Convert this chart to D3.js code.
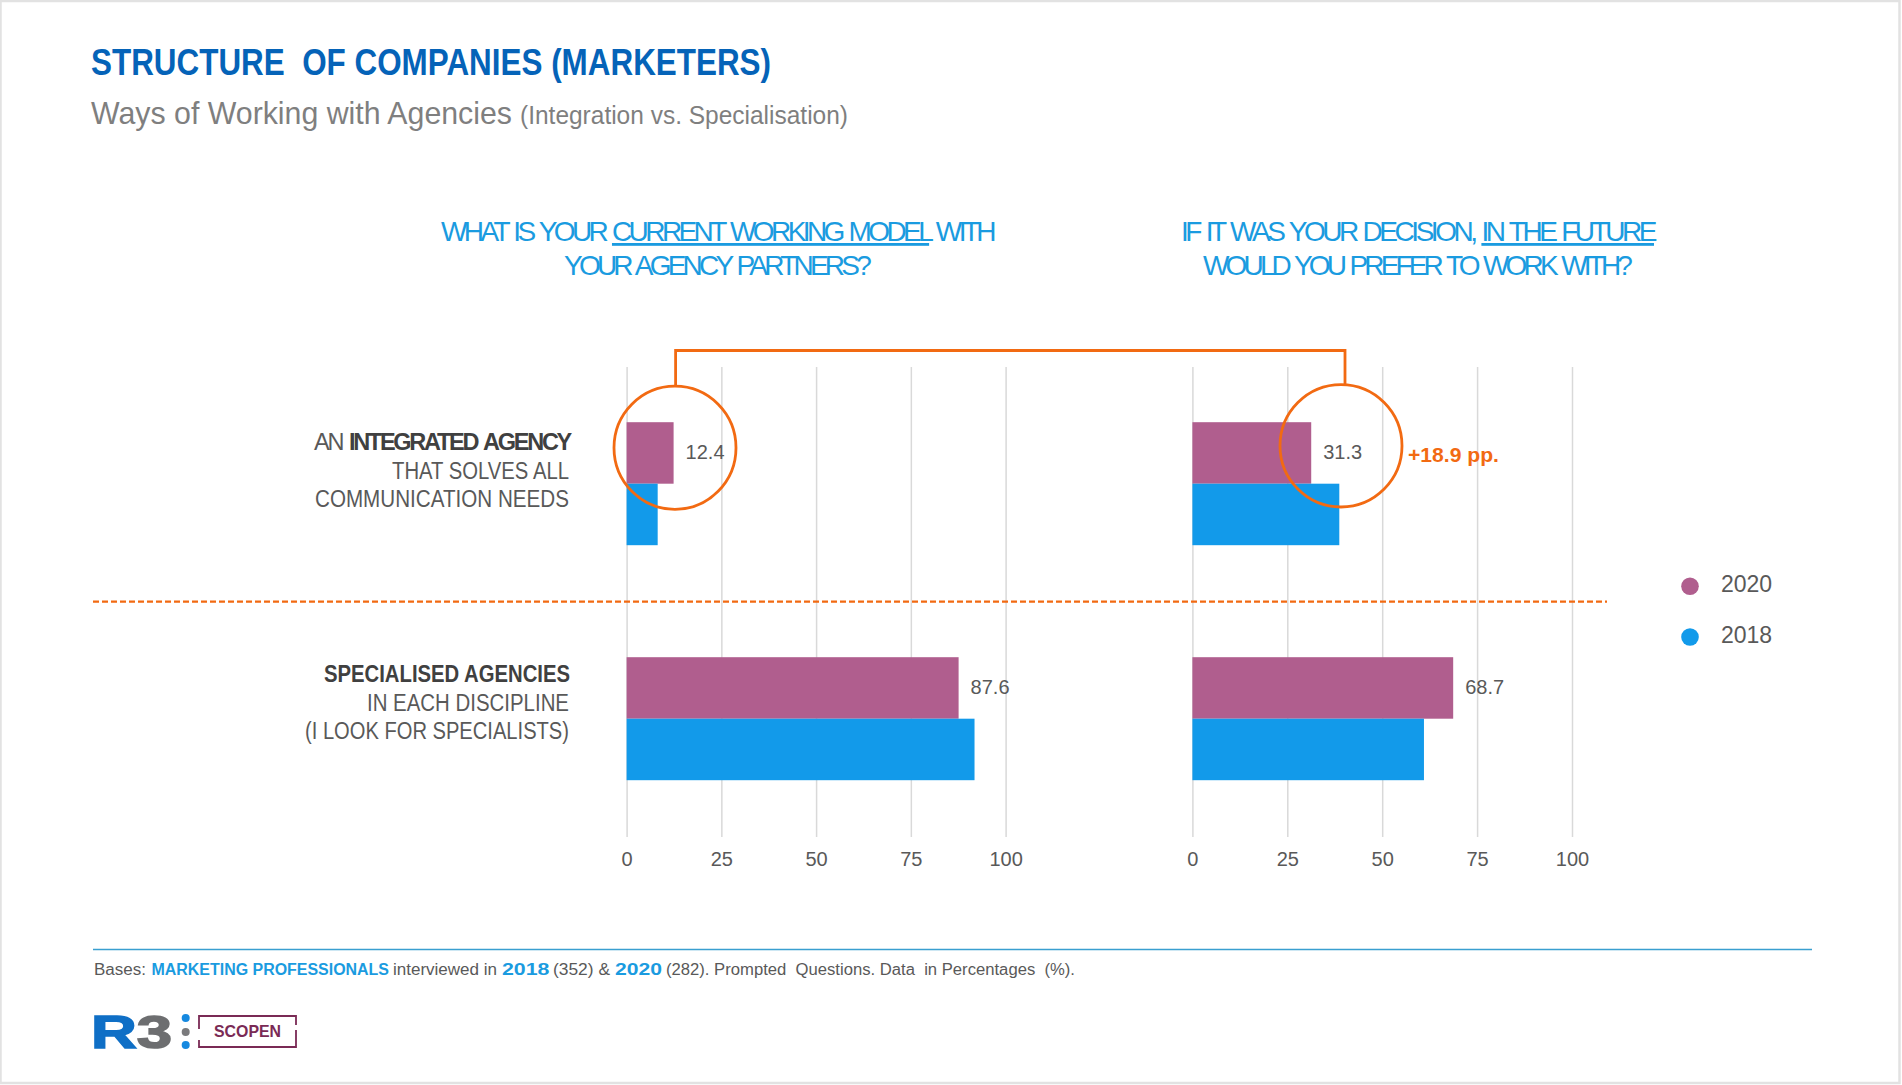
<!DOCTYPE html>
<html>
<head>
<meta charset="utf-8">
<script src="https://d3js.org/d3.v7.min.js"></script>
<style>
html, body { margin: 0; padding: 0; background: #fff; }
svg { display: block; }
text { font-family: "Liberation Sans Narrow", "Liberation Sans", sans-serif; white-space: pre; }
.tick text, .val, .legend { font-family: "Liberation Sans", sans-serif; }
</style>
</head>
<body>
<svg id="chart" width="1902" height="1085"></svg>
<script>
// data
var categories = ["integrated", "specialised"];
var years = ["2020", "2018"];
var currentModel2020 = [12.4, 87.6];
var currentModel2018 = [8.2, 91.8];
var futureModel2020 = [31.3, 68.7];
var futureModel2018 = [38.7, 61.0];
var tickValues = [0, 25, 50, 75, 100];

var PURPLE = "#b05e8e", BLUE = "#129aea", ORANGE = "#f26a12", GREY = "#595959";
var svg = d3.select("#chart");

// page frame
svg.append("rect").attr("x", 0.5).attr("y", 1).attr("width", 1899).attr("height", 1082)
	.attr("fill", "#fff").attr("stroke", "#e2e2e2").attr("stroke-width", 2.5);

// text fitted between two x positions
function fit(x0, x1, y, str, size, color, weight, font) {
	var t = svg.append("text").attr("x", x0).attr("y", y)
		.attr("textLength", x1 - x0).attr("lengthAdjust", "spacingAndGlyphs")
		.attr("font-size", size).attr("fill", color).text(str);
	if (weight) t.attr("font-weight", weight);
	if (font) t.style("font-family", font);
	return t;
}

// a line of several pieces, tightened with letter-spacing to fill x0..x1
// piece: [string, underlined, bold, colour]
function fitParts(x0, x1, y, parts, size, color) {
	var t = svg.append("text").attr("x", x0).attr("y", y)
		.attr("font-size", size).attr("fill", color).attr("word-spacing", 2.5);
	parts.forEach(function (p) {
		var s = t.append("tspan").text(p[0]);
		if (p[1]) s.style("text-decoration", "underline");
		if (p[2]) s.attr("font-weight", "bold");
		if (p[3]) s.attr("fill", p[3]);
	});
	var n = t.node();
	t.attr("letter-spacing", (x1 - x0 - n.getComputedTextLength()) / n.getNumberOfChars());
	return t;
}

fit(91, 771, 75, "STRUCTURE  OF COMPANIES (MARKETERS)", 36, "#0563b8", "bold");
fit(91, 512, 124, "Ways of Working with Agencies", 32, "#7f7f7f");
fit(520, 848, 124, "(Integration vs. Specialisation)", 26, "#7f7f7f");

// question headers
var HEAD = "#1a9be0";
fitParts(441, 993, 241, [["WHAT IS YOUR "], ["CURRENT WORKING MODEL", true], [" WITH"]], 28, HEAD);
fitParts(564, 868, 275, [["YOUR AGENCY PARTNERS?"]], 28, HEAD);
fitParts(1181, 1654, 241, [["IF IT WAS YOUR DECISION, "], ["IN THE FUTURE", true]], 28, HEAD);
fitParts(1203, 1629, 275, [["WOULD YOU PREFER TO WORK WITH?"]], 28, HEAD);

// the two panels share y, each has its own x
var TOP = 367, BOTTOM = 837;
var y0 = d3.scaleBand().domain(categories).range([TOP, BOTTOM]).paddingInner(0).paddingOuter(0);
var y1 = d3.scaleBand().domain(years).range([(y0.bandwidth() - 123) / 2 - 0.8, (y0.bandwidth() + 123) / 2 - 0.8]);

function panel(x0, x100, v2020, v2018) {
	var x = d3.scaleLinear().domain([0, 100]).range([x0, x100]);
	var g = svg.append("g");

	var axis = g.append("g").attr("transform", "translate(0," + BOTTOM + ")")
		.call(d3.axisBottom(x).tickValues(tickValues).tickSize(-(BOTTOM - TOP)).tickPadding(15));
	axis.select(".domain").remove();
	axis.selectAll(".tick line").attr("stroke", "#d9d9d9").attr("stroke-width", 1.5);
	axis.selectAll(".tick text").attr("font-size", 20).attr("fill", GREY);

	var rows = categories.map(function (c, i) {
		return { cat: c, values: [{ year: "2020", v: v2020[i] }, { year: "2018", v: v2018[i] }] };
	});
	var color = d3.scaleOrdinal().domain(years).range([PURPLE, BLUE]);

	var row = g.selectAll(".row").data(rows).enter().append("g")
		.attr("transform", function (d) { return "translate(0," + y0(d.cat) + ")"; });
	row.selectAll("rect").data(function (d) { return d.values; }).enter().append("rect")
		.attr("x", x(0))
		.attr("y", function (d) { return y1(d.year); })
		.attr("width", function (d) { return x(d.v) - x(0); })
		.attr("height", y1.bandwidth())
		.attr("fill", function (d) { return color(d.year); });
	// only 2020 carries a label
	row.selectAll(".val").data(function (d) { return d.values.filter(function (e) { return e.year == "2020"; }); })
		.enter().append("text").attr("class", "val")
		.attr("x", function (d) { return x(d.v) + 12; })
		.attr("y", function (d) { return y1(d.year) + y1.bandwidth() / 2 + 6; })
		.attr("font-size", 20).attr("fill", GREY)
		.text(function (d) { return d.v.toFixed(1); });
}
panel(626.6, 1005.6, currentModel2020, currentModel2018);
panel(1192.4, 1572, futureModel2020, futureModel2018);

// row labels
var LAB = "#595959", LABB = "#404040";
fitParts(314, 570, 450, [["AN "], ["INTEGRATED AGENCY", false, true, LABB]], 23.5, LAB);
fit(392, 569, 479, "THAT SOLVES ALL", 23, LAB);
fit(315, 569, 507, "COMMUNICATION NEEDS", 23, LAB);
fit(324, 570, 682, "SPECIALISED AGENCIES", 23, LABB, "bold");
fit(367, 569, 710.5, "IN EACH DISCIPLINE", 23, LAB);
fit(305, 569, 738.5, "(I LOOK FOR SPECIALISTS)", 23, LAB);

// bracket and circles
svg.append("path").attr("fill", "none").attr("stroke", ORANGE).attr("stroke-width", 2.8)
	.attr("d", "M675.6,386V350.5H1345V384.5");
[[675, 447.8, 61, 61.6], [1341, 445.8, 61, 61.2]].forEach(function (c) {
	svg.append("ellipse").attr("cx", c[0]).attr("cy", c[1]).attr("rx", c[2]).attr("ry", c[3])
		.attr("fill", "none").attr("stroke", ORANGE).attr("stroke-width", 2.8);
});
fit(1408, 1499, 462, "+18.9 pp.", 21, ORANGE, "bold");

// dashed separator
svg.append("line").attr("x1", 93).attr("x2", 1607).attr("y1", 601.6).attr("y2", 601.6)
	.attr("stroke", ORANGE).attr("stroke-width", 2.2).attr("stroke-dasharray", "6,3");

// legend
var legend = svg.selectAll(".lg").data(years).enter().append("g")
	.attr("transform", function (d, i) { return "translate(0," + (586.2 + i * 50.8) + ")"; });
legend.append("circle").attr("cx", 1690).attr("r", 8.8)
	.attr("fill", function (d, i) { return i == 0 ? PURPLE : BLUE; });
legend.append("text").attr("class", "legend").attr("x", 1721).attr("y", 6)
	.attr("font-size", 23).attr("fill", GREY).text(function (d) { return d; });

// footer
svg.append("line").attr("x1", 93).attr("x2", 1812).attr("y1", 949.5).attr("y2", 949.5)
	.attr("stroke", "#3a9fd0").attr("stroke-width", 1.6);
var FOOT = "#595959", FB = "#1a9be0";
fit(94, 146, 975, "Bases:", 16, FOOT);
fit(151.5, 389, 975, "MARKETING PROFESSIONALS", 16, FB, "bold");
fit(393, 497, 975, "interviewed in", 16, FOOT);
fit(502, 549.5, 975, "2018", 17, FB, "bold", '"Liberation Sans", sans-serif');
fit(553, 610, 975, "(352) &", 16, FOOT);
fit(615, 662, 975, "2020", 17, FB, "bold", '"Liberation Sans", sans-serif');
fit(666, 1075, 975, "(282). Prompted  Questions. Data  in Percentages  (%).", 16, FOOT);

// logo
var r3 = svg.append("text").attr("transform", "translate(91,1048) scale(1.38,1)")
	.attr("font-size", 46).attr("font-weight", "bold").style("font-family", '"Liberation Sans", sans-serif');
r3.append("tspan").attr("fill", "#0f6fc6").attr("stroke", "#0f6fc6").attr("stroke-width", 1.5).text("R");
r3.append("tspan").attr("fill", "#6d6e70").attr("stroke", "#6d6e70").attr("stroke-width", 1.5).text("3");
[[1018, "#1689e0"], [1032, "#7a7a7c"], [1045, "#1689e0"]].forEach(function (c) {
	svg.append("circle").attr("cx", 185.7).attr("cy", c[0]).attr("r", 4).attr("fill", c[1]);
});
svg.append("path").attr("fill", "none").attr("stroke", "#7a2a55").attr("stroke-width", 1.8)
	.attr("d", "M199,1029V1016H296V1025M296,1030V1047H199V1040");
fit(214, 281, 1037, "SCOPEN", 16.5, "#7a2a55", "bold", '"Liberation Sans", sans-serif');
</script>
</body>
</html>
